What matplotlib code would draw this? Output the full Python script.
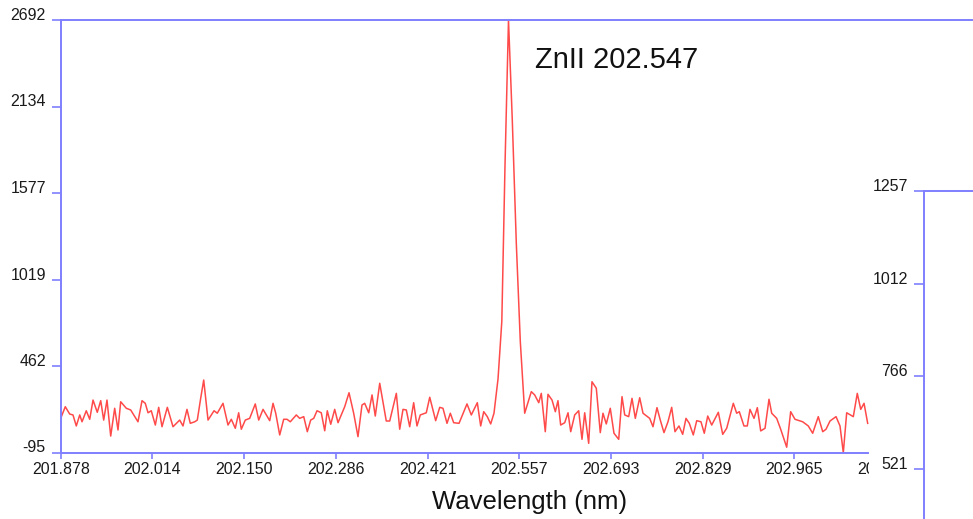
import matplotlib
matplotlib.use("Agg")
import matplotlib.pyplot as plt
from matplotlib.transforms import Bbox, TransformedBbox

plt.rcParams['font.family'] = ['Liberation Sans', 'DejaVu Sans']

# ---------------- data ----------------
wavelength = [
    201.8780, 201.8848, 201.8913, 201.8962, 201.9011, 201.9062, 201.9096, 201.9159, 201.9210, 201.9259,
    201.9322, 201.9373, 201.9417, 201.9466, 201.9521, 201.9580, 201.9629, 201.9669, 201.9752, 201.9817,
    201.9925, 201.9985, 202.0033, 202.0074, 202.0122, 202.0182, 202.0232, 202.0281, 202.0360, 202.0444,
    202.0543, 202.0592, 202.0651, 202.0700, 202.0766, 202.0804, 202.0854, 202.0899, 202.0963, 202.1052,
    202.1100, 202.1185, 202.1259, 202.1308, 202.1367, 202.1417, 202.1456, 202.1515, 202.1580, 202.1663,
    202.1714, 202.1778,
    202.1877, 202.1926, 202.1966, 202.2025, 202.2084, 202.2133, 202.2182, 202.2271, 202.2321, 202.2381,
    202.2434, 202.2484, 202.2529, 202.2578, 202.2641, 202.2692, 202.2730, 202.2781, 202.2840, 202.2889,
    202.2988, 202.3052, 202.3121, 202.3185, 202.3244, 202.3284, 202.3344, 202.3393, 202.3441, 202.3507,
    202.3604, 202.3655, 202.3753, 202.3803, 202.3852, 202.3901, 202.3951, 202.4010, 202.4059, 202.4108,
    202.4197, 202.4248, 202.4336, 202.4396, 202.4444, 202.4504, 202.4553, 202.4603, 202.4682, 202.4800,
    202.4864, 202.4953, 202.5003, 202.5048, 202.5101, 202.5151, 202.5200,
    202.5260, 202.5316, 202.5363, 202.5415, 202.5471, 202.5531, 202.5590, 202.5655,
    202.5753, 202.5803, 202.5863, 202.5901, 202.5960, 202.6000, 202.6060, 202.6109, 202.6148, 202.6188,
    202.6248, 202.6297, 202.6337, 202.6396, 202.6455, 202.6504, 202.6544, 202.6603, 202.6652, 202.6716,
    202.6775, 202.6815, 202.6864, 202.6923, 202.6978, 202.7048, 202.7097, 202.7137, 202.7196, 202.7245,
    202.7294, 202.7359, 202.7408, 202.7507, 202.7556, 202.7615, 202.7664, 202.7719, 202.7778,
    202.7833, 202.7882, 202.7941, 202.7996, 202.8045, 202.8094, 202.8153, 202.8204, 202.8267, 202.8316,
    202.8367, 202.8426, 202.8524, 202.8589, 202.8648, 202.8746, 202.8796, 202.8835, 202.8904, 202.8953,
    202.8993, 202.9053, 202.9102, 202.9152, 202.9216, 202.9275, 202.9315, 202.9389, 202.9448, 202.9537,
    202.9596, 202.9660, 202.9774, 202.9857, 202.9922, 203.0005, 203.0071, 203.0120, 203.0179, 203.0268,
    203.0327, 203.0376, 203.0426, 203.0524, 203.0583, 203.0634, 203.0683, 203.0737,
]

intensity = [
    125, 200, 153, 147, 76, 147, 103, 174, 119, 243,
    164, 239, 114, 243, 11, 190, 50, 232, 190, 179,
    103, 239, 222, 161, 174, 82, 196, 71, 196, 71,
    114, 76, 183, 93, 103, 114, 254, 372, 114, 174,
    158, 222, 82, 119, 61, 161, 55, 114, 125, 218,
    114, 183,
    110, 222, 158, 18, 119, 119, 103, 147, 125, 136,
    39, 114, 125, 174, 161, 45, 174, 87, 183, 97,
    200, 290, 158, 7, 211, 222, 161, 276, 140, 351,
    108, 108, 286, 55, 183, 179, 71, 226, 76, 147,
    161, 261, 110, 196, 190, 93, 158, 97, 93, 218,
    147, 226, 76, 168, 136, 89, 158,
    380, 750, 1750, 2692, 2050, 1250, 620, 158,
    297, 276, 226, 286, 39, 280, 243, 168, 239, 82,
    97, 161, 39, 147, 174, -10, 161, -36, 361, 319,
    33, 158, 89, 190, 29, -10, 265, 147, 136, 254,
    125, 258, 158, 125, 71, 194, 114, 33, 103,
    196, 39, 76, 22, 125, 93, 18, 110, 103, 29,
    140, 82, 164, 22, 61, 222, 158, 168, 76, 76,
    183, 125, 194, 44, 61, 248, 158, 125, 55, -61,
    168, 119, 103, 76, 29, 136, 39, 55, 108, 136,
    76, -96, 161, 136, 286, 183, 222, 93,
]

x_ticks = [201.878, 202.013875, 202.14975, 202.285625, 202.4215,
           202.557375, 202.69325, 202.829125, 202.965, 203.100875]
x_tick_labels = ['201.878', '202.014', '202.150', '202.286', '202.421',
                 '202.557', '202.693', '202.829', '202.965', '203.101']
y_ticks = [-95, 462.4, 1019.8, 1577.2, 2134.6, 2692]
y_tick_labels = ['-95', '462', '1019', '1577', '2134', '2692']

y2_ticks = [521, 766.33, 1011.67, 1257]
y2_tick_labels = ['521', '766', '1012', '1257']

peak_label = 'ZnII 202.547'
x_label = 'Wavelength (nm)'

# ---------------- layout ----------------
W, H = 973, 519
fig = plt.figure(figsize=(W / 100, H / 100), dpi=100)
fig.patch.set_facecolor('white')


def fx(px):
    return px / W


def fy(py):
    return (H - py) / H


spine_color = '#7f7fff'
line_color = '#ff4a4a'
tick_fs = 11.5

ax = fig.add_axes([fx(60.7), fy(452.5), fx(973) - fx(60.7), fy(20) - fy(452.5)])
ax.set_xlim(201.878, 201.878 + (973 - 60.7) / 674.9)
ax.set_ylim(-95, 2692)
ax.plot(wavelength, intensity, color=line_color, lw=1.1)

for s in ax.spines.values():
    s.set_color(spine_color)
    s.set_linewidth(1.4)
ax.spines['right'].set_visible(False)
ax.spines['bottom'].set_bounds(201.878, 203.0742)

ax.set_xticks(x_ticks)
ax.set_xticklabels(x_tick_labels)
ax.set_yticks(y_ticks)
ax.set_yticklabels(y_tick_labels)
ax.tick_params(axis='x', direction='out', length=4.3, width=1.2, color=spine_color,
               pad=2.2, labelsize=tick_fs, labelcolor='#1a1a1a')
ax.tick_params(axis='y', direction='out', length=6.7, width=1.2, color=spine_color,
               pad=4.0, labelsize=tick_fs, labelcolor='#1a1a1a')
for lab in ax.get_yticklabels():
    lab.set_verticalalignment('baseline')

last = ax.xaxis.get_major_ticks()[-1]
last.tick1line.set_visible(False)
clip = TransformedBbox(Bbox([[0, 0], [fx(868.5), 1]]), fig.transFigure)
last.label1.set_clip_box(clip)
last.label1.set_clip_on(True)

ax.text(202.5808, 2381, peak_label, fontsize=21, ha='left', va='baseline', color='#111111')
fig.text(fx(530), fy(509), x_label, fontsize=18.5, ha='center', va='baseline', color='#111111')

# right partial panel
ax2 = fig.add_axes([fx(923.5), 0, fx(973) - fx(923.5), fy(190.7)])
ax2.set_xlim(0, 1)
ax2.set_ylim(521 - (519 - 469.3) * 736 / 278.6, 1257)
ax2.set_xticks([])
ax2.set_yticks(y2_ticks)
ax2.set_yticklabels(y2_tick_labels)
for s in ax2.spines.values():
    s.set_color(spine_color)
    s.set_linewidth(1.4)
ax2.spines['right'].set_visible(False)
ax2.spines['bottom'].set_visible(False)
ax2.tick_params(axis='y', direction='out', length=7.5, width=1.2, color=spine_color,
                pad=3.8, labelsize=tick_fs, labelcolor='#1a1a1a')
for lab in ax2.get_yticklabels():
    lab.set_verticalalignment('baseline')

fig.savefig('out.png', dpi=100, facecolor='white')
